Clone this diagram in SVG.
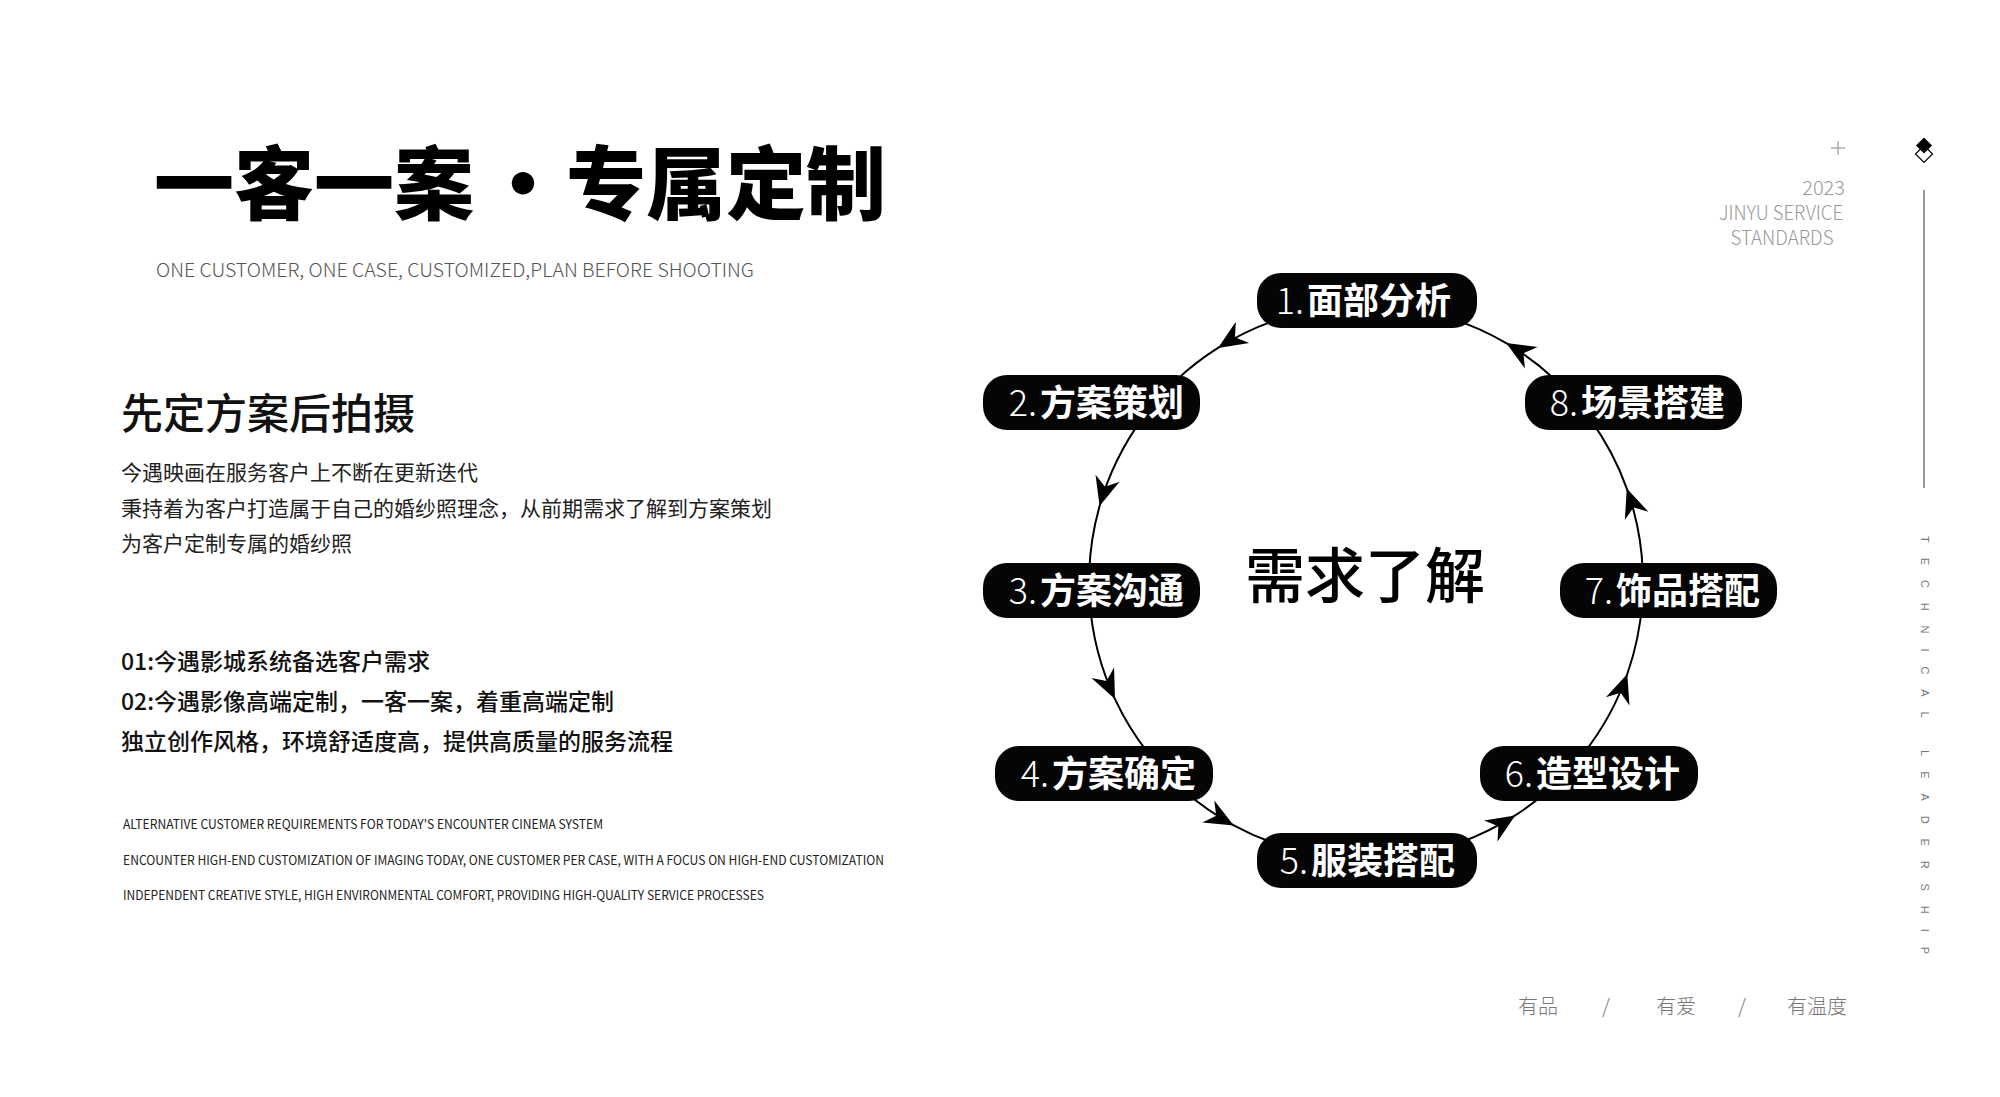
<svg xmlns="http://www.w3.org/2000/svg" width="2000" height="1097" viewBox="0 0 2000 1097">
<style>
.cjk{font-family:"Noto Sans CJK SC","Noto Sans",sans-serif}
.box{fill:#050505}
.nt{font-family:"Noto Sans CJK SC",sans-serif;font-size:36px;font-weight:700;fill:#fff;text-anchor:end}
.nn{font-family:"Noto Sans CJK SC",sans-serif;font-size:36px;font-weight:300;fill:#fff;text-anchor:end}
.conn{fill:none;stroke:#000;stroke-width:2;marker-mid:url(#arr)}
.para{font-family:"Noto Sans CJK SC",sans-serif;font-size:21px;font-weight:400;fill:#222}
.list{font-family:"Noto Sans CJK SC",sans-serif;font-size:23px;font-weight:500;fill:#111}
.en{font-family:"Noto Sans CJK SC",sans-serif;font-size:13px;font-weight:400;fill:#222}
.gray{font-family:"Noto Sans CJK SC",sans-serif;font-size:20px;font-weight:300;fill:#9a9a9a}
.foot{font-family:"Noto Sans CJK SC",sans-serif;font-size:20px;font-weight:300;fill:#777}
</style>
<defs>
<marker id="arr" markerUnits="userSpaceOnUse" viewBox="-32 -16 34 32" markerWidth="34" markerHeight="32" refX="0" refY="0" orient="auto" overflow="visible">
<path d="M0,0 L-29,-12.5 L-20,0 L-29,12.5 Z" fill="#000"/>
</marker>
</defs>
<rect width="2000" height="1097" fill="#fff"/>

<g id="title">
<text class="cjk" x="154" y="213" font-size="80" font-weight="900" fill="#000">一客一案</text>
<text class="cjk" x="523" y="213" font-size="80" font-weight="900" fill="#000" text-anchor="middle">·</text>
<text class="cjk" x="566" y="213" font-size="80" font-weight="900" fill="#000">专属定制</text>
<text class="cjk" x="156" y="277" font-size="19" font-weight="200" fill="#555" textLength="598" lengthAdjust="spacingAndGlyphs">ONE CUSTOMER, ONE CASE, CUSTOMIZED,PLAN BEFORE SHOOTING</text>
</g>

<g id="intro">
<text class="cjk" x="121" y="429" font-size="42" font-weight="500" fill="#111">先定方案后拍摄</text>
<text class="para" x="121" y="480">今遇映画在服务客户上不断在更新迭代</text>
<text class="para" x="121" y="516">秉持着为客户打造属于自己的婚纱照理念，从前期需求了解到方案策划</text>
<text class="para" x="121" y="551">为客户定制专属的婚纱照</text>
</g>

<g id="points">
<text class="list" x="121" y="670">01:今遇影城系统备选客户需求</text>
<text class="list" x="121" y="710">02:今遇影像高端定制，一客一案，着重高端定制</text>
<text class="list" x="121" y="750">独立创作风格，环境舒适度高，提供高质量的服务流程</text>
<text class="en" x="123" y="829" textLength="480" lengthAdjust="spacingAndGlyphs">ALTERNATIVE CUSTOMER REQUIREMENTS FOR TODAY'S ENCOUNTER CINEMA SYSTEM</text>
<text class="en" x="123" y="865" textLength="761" lengthAdjust="spacingAndGlyphs">ENCOUNTER HIGH-END CUSTOMIZATION OF IMAGING TODAY, ONE CUSTOMER PER CASE, WITH A FOCUS ON HIGH-END CUSTOMIZATION</text>
<text class="en" x="123" y="900" textLength="641" lengthAdjust="spacingAndGlyphs">INDEPENDENT CREATIVE STYLE, HIGH ENVIRONMENTAL COMFORT, PROVIDING HIGH-QUALITY SERVICE PROCESSES</text>
</g>

<g id="connectors">
<path class="conn" d="M1280.4,318.6 A277,277 0 0 0 1218.0,347.9 A277,277 0 0 0 1177.1,379.4"/>
<path class="conn" d="M1141.9,419.2 A277,277 0 0 0 1099.6,506.1 A277,277 0 0 0 1089.2,572.3"/>
<path class="conn" d="M1089.7,601.3 A277,277 0 0 0 1115.0,699.1 A277,277 0 0 0 1147.7,752.5"/>
<path class="conn" d="M1184.3,791.1 A277,277 0 0 0 1233.8,825.4 A277,277 0 0 0 1271.3,842.3"/>
<path class="conn" d="M1460.7,842.3 A277,277 0 0 0 1515.2,815.4 A277,277 0 0 0 1547.7,791.1"/>
<path class="conn" d="M1584.3,752.5 A277,277 0 0 0 1627.3,674.0 A277,277 0 0 0 1642.3,601.3"/>
<path class="conn" d="M1642.8,572.3 A277,277 0 0 0 1626.8,488.6 A277,277 0 0 0 1590.1,419.2"/>
<path class="conn" d="M1554.9,379.4 A277,277 0 0 0 1506.2,343.1 A277,277 0 0 0 1451.6,318.6"/>
</g>

<g id="center">
<text class="cjk" x="1365" y="598" font-size="60" font-weight="500" fill="#000" text-anchor="middle">需求了解</text>
</g>

<g id="node1">
<rect class="box" x="1257" y="273" width="220" height="55" rx="24"/>
<text class="nn" x="1304" y="314">1.</text>
<text class="nt" x="1451" y="314">面部分析</text>
</g>
<g id="node2">
<rect class="box" x="983" y="375" width="217" height="55" rx="24"/>
<text class="nn" x="1037" y="416">2.</text>
<text class="nt" x="1184" y="416">方案策划</text>
</g>
<g id="node3">
<rect class="box" x="983" y="563" width="217" height="55" rx="24"/>
<text class="nn" x="1037" y="604">3.</text>
<text class="nt" x="1184" y="604">方案沟通</text>
</g>
<g id="node4">
<rect class="box" x="995" y="746" width="218" height="55" rx="24"/>
<text class="nn" x="1049" y="787">4.</text>
<text class="nt" x="1196" y="787">方案确定</text>
</g>
<g id="node5">
<rect class="box" x="1257" y="833" width="220" height="55" rx="24"/>
<text class="nn" x="1308" y="874">5.</text>
<text class="nt" x="1455" y="874">服装搭配</text>
</g>
<g id="node6">
<rect class="box" x="1480" y="746" width="218" height="55" rx="24"/>
<text class="nn" x="1533" y="787">6.</text>
<text class="nt" x="1680" y="787">造型设计</text>
</g>
<g id="node7">
<rect class="box" x="1560" y="563" width="217" height="55" rx="24"/>
<text class="nn" x="1613" y="604">7.</text>
<text class="nt" x="1760" y="604">饰品搭配</text>
</g>
<g id="node8">
<rect class="box" x="1525" y="375" width="217" height="55" rx="24"/>
<text class="nn" x="1578" y="416">8.</text>
<text class="nt" x="1725" y="416">场景搭建</text>
</g>

<g id="corner">
<path d="M1831,148 H1845 M1838,141 V155" stroke="#aaa" stroke-width="1.5" fill="none"/>
<text class="gray" x="1845" y="195" text-anchor="end">2023</text>
<text class="gray" x="1781" y="220" text-anchor="middle" textLength="124" lengthAdjust="spacingAndGlyphs">JINYU SERVICE</text>
<text class="gray" x="1782" y="245" text-anchor="middle" textLength="103" lengthAdjust="spacingAndGlyphs">STANDARDS</text>
</g>

<g id="sidebar">
<polygon points="1924,145.5 1932.5,154 1924,162.5 1915.5,154" fill="#fff" stroke="#000" stroke-width="1.2"/>
<polygon points="1924,137.5 1932,145.5 1924,153.5 1916,145.5" fill="#000"/>
<line x1="1924" y1="190" x2="1924" y2="488" stroke="#999" stroke-width="2"/>
<text transform="translate(1921,536) rotate(90)" font-family="Liberation Sans, sans-serif" font-size="11" fill="#777" textLength="418" lengthAdjust="spacing">TECHNICAL LEADERSHIP</text>
</g>

<g id="footer">
<text class="foot" x="1518" y="1014">有品</text>
<text class="foot" x="1606" y="1014" text-anchor="middle">/</text>
<text class="foot" x="1656" y="1014">有爱</text>
<text class="foot" x="1742" y="1014" text-anchor="middle">/</text>
<text class="foot" x="1787" y="1014">有温度</text>
</g>
</svg>
